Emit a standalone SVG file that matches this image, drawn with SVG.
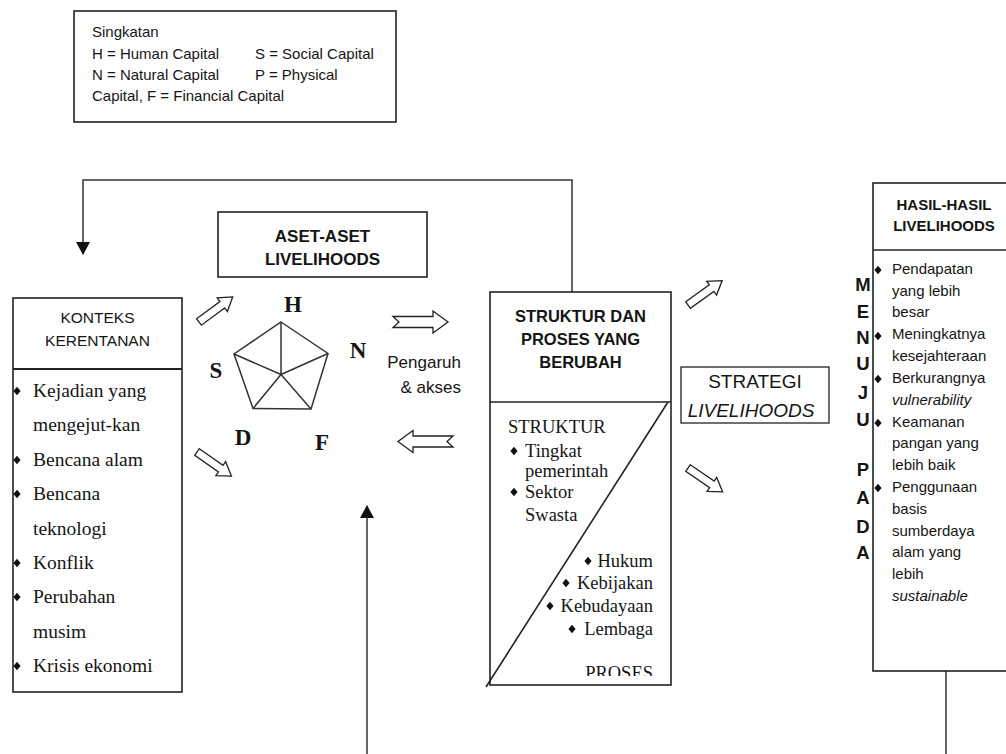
<svg xmlns="http://www.w3.org/2000/svg" width="1006" height="754" viewBox="0 0 1006 754">
<style>
.box{fill:#fff;stroke:#222;stroke-width:1.6}
.ln{fill:none;stroke:#333;stroke-width:1.5}
.ha{fill:#fff;stroke:#222;stroke-width:1.3;stroke-linejoin:miter}
.sans{font-family:"Liberation Sans",Arial,sans-serif;fill:#151515}
.serif{font-family:"Liberation Serif","Times New Roman",serif;fill:#151515}
.b{font-weight:bold}
.i{font-style:italic}
.mid{text-anchor:middle}
.end{text-anchor:end}
.dia{fill:#111}
</style>
<defs>
<path id="harrow" d="M0,-4 L29,-4 L29,-8.5 L42,0 L29,8.5 L29,4 L0,4 Z"/>
<path id="narrow" d="M0,-5.5 L40,-5.5 L40,-11 L55,0 L40,11 L40,5.5 L0,5.5 L6,0 Z"/>
<path id="bul" d="M0,-4.2 L3.6,0 L0,4.2 L-3.6,0 Z"/>
<marker id="tri" markerWidth="14" markerHeight="14" refX="12" refY="7" orient="auto" markerUnits="userSpaceOnUse">
<path d="M0,0 L13,7 L0,14 Z" fill="#111"/>
</marker>
<clipPath id="clipP"><rect x="490" y="600" width="181" height="76"/></clipPath>
</defs>

<g id="legend">
<rect class="box" x="74" y="11" width="322" height="111"/>
<text class="sans" font-size="15" x="92" y="37">Singkatan</text>
<text class="sans" font-size="15" x="92" y="59">H = Human Capital</text>
<text class="sans" font-size="15" x="255" y="59">S = Social Capital</text>
<text class="sans" font-size="15" x="92" y="80">N = Natural Capital</text>
<text class="sans" font-size="15" x="255" y="80">P = Physical</text>
<text class="sans" font-size="15" x="92" y="101">Capital, F = Financial Capital</text>
</g>

<g id="connectors">
<path class="ln" d="M572,292 L572,180 L83,180 L83,254" marker-end="url(#tri)"/>
<path class="ln" d="M367,754 L367,506" marker-end="url(#tri)"/>
<path class="ln" d="M946,671 L946,754"/>
<use href="#harrow" class="ha" transform="translate(199,322) rotate(-36.6)"/>
<use href="#harrow" class="ha" transform="translate(197,452) rotate(35)"/>
<use href="#narrow" class="ha" transform="translate(393,322)"/>
<use href="#narrow" class="ha" transform="translate(453,441.5) rotate(180)"/>
<use href="#harrow" class="ha" transform="translate(688,305) rotate(-35.5)"/>
<use href="#harrow" class="ha" transform="translate(688,468) rotate(34.5)"/>
<text class="sans end" font-size="17" x="461" y="368">Pengaruh</text>
<text class="sans end" font-size="17" x="461" y="393">&amp; akses</text>
</g>

<g id="aset">
<rect class="box" x="218" y="212" width="209" height="65"/>
<text class="sans b mid" font-size="17" x="322.5" y="242">ASET-ASET</text>
<text class="sans b mid" font-size="17" x="322.5" y="265">LIVELIHOODS</text>
</g>

<g id="pentagon">
<path class="ln" stroke-width="1.6" d="M281,322 L328,353.5 L311,409 L253,408.5 L234,354 Z"/>
<path class="ln" stroke-width="1.6" d="M281,374.5 L281,322 M281,374.5 L328,353.5 M281,374.5 L311,409 M281,374.5 L253,408.5 M281,374.5 L234,354"/>
<text class="serif b mid" font-size="23" x="293" y="312">H</text>
<text class="serif b mid" font-size="23" x="358" y="358">N</text>
<text class="serif b mid" font-size="23" x="216" y="378">S</text>
<text class="serif b mid" font-size="23" x="243" y="445">D</text>
<text class="serif b mid" font-size="23" x="322" y="450">F</text>
</g>

<g id="konteks">
<rect class="box" x="13" y="298" width="169" height="394"/>
<line x1="13" y1="369" x2="182" y2="369" stroke="#222" stroke-width="2.2"/>
<text class="sans mid" font-size="15.5" x="97.5" y="323">KONTEKS</text>
<text class="sans mid" font-size="15.5" x="97.5" y="346">KERENTANAN</text>
<g class="serif" font-size="19.5">
<text x="33" y="397">Kejadian yang</text>
<text x="33" y="431">mengejut-kan</text>
<text x="33" y="466">Bencana alam</text>
<text x="33" y="500">Bencana</text>
<text x="33" y="535">teknologi</text>
<text x="33" y="569">Konflik</text>
<text x="33" y="603">Perubahan</text>
<text x="33" y="638">musim</text>
<text x="33" y="672">Krisis ekonomi</text>
</g>
<use href="#bul" class="dia" x="17" y="391"/>
<use href="#bul" class="dia" x="17" y="460"/>
<use href="#bul" class="dia" x="17" y="494"/>
<use href="#bul" class="dia" x="17" y="563"/>
<use href="#bul" class="dia" x="17" y="597"/>
<use href="#bul" class="dia" x="17" y="666"/>
</g>

<g id="struktur">
<rect class="box" x="490" y="292" width="181" height="393"/>
<line x1="490" y1="402" x2="671" y2="402" stroke="#222" stroke-width="1.6"/>
<line x1="668" y1="402" x2="486" y2="687" stroke="#222" stroke-width="1.6"/>
<text class="sans b mid" font-size="16.5" x="580.5" y="322">STRUKTUR DAN</text>
<text class="sans b mid" font-size="16.5" x="580.5" y="345">PROSES YANG</text>
<text class="sans b mid" font-size="16.5" x="580.5" y="368">BERUBAH</text>
<g class="serif" font-size="18.5">
<text x="508" y="433">STRUKTUR</text>
<text x="525" y="457">Tingkat</text>
<text x="525" y="477">pemerintah</text>
<text x="525" y="498">Sektor</text>
<text x="525" y="521">Swasta</text>
<text class="end" x="653" y="567">Hukum</text>
<text class="end" x="653" y="589">Kebijakan</text>
<text class="end" x="653" y="612">Kebudayaan</text>
<text class="end" x="653" y="635">Lembaga</text>
<text class="end" x="653" y="679" clip-path="url(#clipP)">PROSES</text>
</g>
<use href="#bul" class="dia" x="514" y="451"/>
<use href="#bul" class="dia" x="514" y="492"/>
<use href="#bul" class="dia" x="588" y="561"/>
<use href="#bul" class="dia" x="566" y="583"/>
<use href="#bul" class="dia" x="550" y="606"/>
<use href="#bul" class="dia" x="572" y="629"/>
</g>

<g id="strategi">
<rect x="681" y="367" width="148" height="56" fill="#fff" stroke="#222" stroke-width="1.3"/>
<text class="sans mid" font-size="19" x="755" y="388">STRATEGI</text>
<text class="sans i mid" font-size="19" x="751" y="417">LIVELIHOODS</text>
</g>

<g id="hasil">
<rect class="box" x="873" y="183" width="145" height="488"/>
<line x1="873" y1="250" x2="1006" y2="250" stroke="#222" stroke-width="1.6"/>
<text class="sans b mid" font-size="15" x="944" y="210">HASIL-HASIL</text>
<text class="sans b mid" font-size="15" x="944" y="231">LIVELIHOODS</text>
<g class="sans" font-size="15">
<text x="892" y="274">Pendapatan</text>
<text x="892" y="296">yang lebih</text>
<text x="892" y="317">besar</text>
<text x="892" y="339">Meningkatnya</text>
<text x="892" y="361">kesejahteraan</text>
<text x="892" y="383">Berkurangnya</text>
<text class="i" x="892" y="405">vulnerability</text>
<text x="892" y="427">Keamanan</text>
<text x="892" y="448">pangan yang</text>
<text x="892" y="470">lebih baik</text>
<text x="892" y="492">Penggunaan</text>
<text x="892" y="514">basis</text>
<text x="892" y="536">sumberdaya</text>
<text x="892" y="557">alam yang</text>
<text x="892" y="579">lebih</text>
<text class="i" x="892" y="601">sustainable</text>
</g>
<use href="#bul" class="dia" x="878" y="270"/>
<use href="#bul" class="dia" x="878" y="336"/>
<use href="#bul" class="dia" x="878" y="379"/>
<use href="#bul" class="dia" x="878" y="423"/>
<use href="#bul" class="dia" x="878" y="488"/>
</g>

<g id="menuju" class="sans b mid" font-size="18.5">
<text x="863" y="291">M</text>
<text x="863" y="318">E</text>
<text x="863" y="344">N</text>
<text x="863" y="370">U</text>
<text x="863" y="399">J</text>
<text x="863" y="426">U</text>
<text x="863" y="476">P</text>
<text x="863" y="504">A</text>
<text x="863" y="533">D</text>
<text x="863" y="559">A</text>
</g>
</svg>
